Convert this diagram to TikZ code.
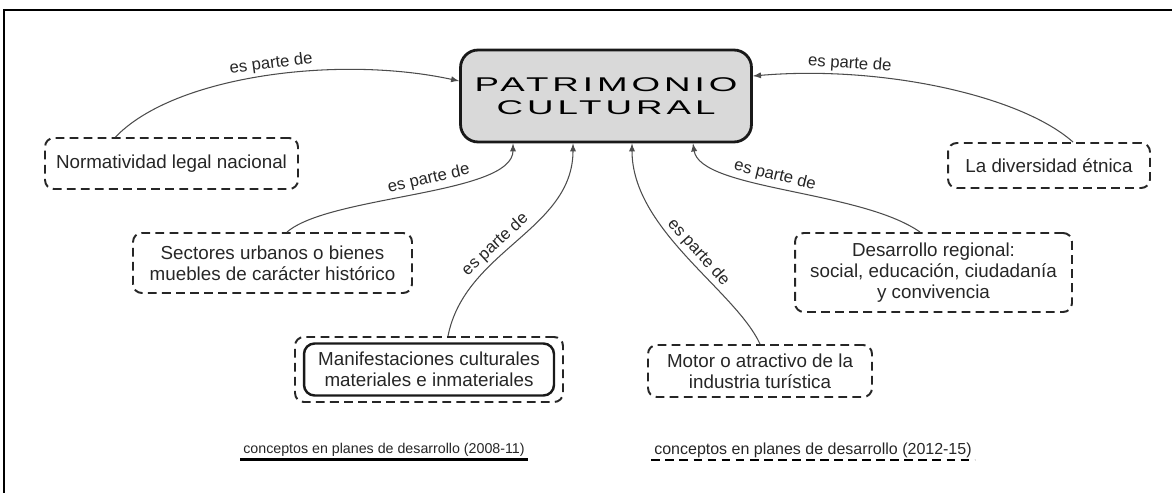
\documentclass[tikz,border=0pt]{standalone}
\usepackage{fontspec}
\setmainfont{Liberation Sans}
\newfontfamily\titlefont[FakeStretch=1.85,LetterSpace=20]{Liberation Sans}
\usetikzlibrary{arrows}

\begin{document}
\begin{tikzpicture}[x=0.02cm,y=-0.02cm,
    concept/.style={draw=black!85,line width=1.1pt,dash pattern=on 5pt off 3pt,
      rounded corners=5pt,align=center,inner sep=0pt,text=black!85,
      font=\fontsize{10.7}{12}\selectfont},
    older/.style={draw=black!90,line width=1.4pt,rounded corners=6pt,
      align=center,inner sep=0pt,text=black!85,font=\fontsize{10.7}{12}\selectfont},
    mainbox/.style={draw=black!90,line width=1.6pt,rounded corners=10pt,fill=gray!30,
      align=center,font=\titlefont\fontsize{11.3}{13}\selectfont},
    link/.style={draw=black!70,line width=0.6pt,-latex},
    rel/.style={sloped,above,inner sep=1.5pt,text=black!85,font=\fontsize{9.5}{11}\selectfont},
    legend/.style={inner sep=1.5pt,text=black!85}]
    \useasboundingbox (0,0) rectangle (1172,493);
    \draw[line width=0.6pt] (4,493) |- (1172,10);
    %
    \node[mainbox,minimum width=5.82cm,minimum height=1.84cm] (pat) at (606,96) {PATRIMONIO\\CULTURAL};
    \node[concept,minimum width=5.06cm,minimum height=1.02cm] (norm) at (171.5,163.5) {Normatividad legal nacional};
    \node[concept,minimum width=5.58cm,minimum height=1.2cm] (sect) at (272.5,263) {Sectores urbanos o bienes\\muebles de carácter histórico};
    \node[concept,minimum width=5.36cm,minimum height=1.3cm] (manif) at (429,369.5) {};
    \node[older,minimum width=5cm,minimum height=1.04cm] (manifin) at (manif) {Manifestaciones culturales\\materiales e inmateriales};
    \node[concept,minimum width=4.48cm,minimum height=1.04cm] (motor) at (760,371) {Motor o atractivo de la\\industria turística};
    \node[concept,minimum width=5.54cm,minimum height=1.58cm] (desa) at (933.5,272.5) {Desarrollo regional:\\social, educación, ciudadanía\\y convivencia};
    \node[concept,minimum width=4.04cm,minimum height=0.9cm] (etn) at (1049,165.5) {La diversidad étnica};
    %
    \draw[link] ([xshift=-1.12cm]norm.north) .. controls (175,75) and (340,55) .. ([yshift=0.3cm]pat.west)
      node[rel,pos=0.52] {es parte de};
    \draw[link] ([xshift=0.29cm]sect.north) .. controls (330,195) and (513,195) .. ([xshift=-1.86cm]pat.south)
      node[rel,pos=0.55] {es parte de};
    \draw[link] ([xshift=0.38cm]manif.north) .. controls (465,250) and (573,230) .. ([xshift=-0.66cm]pat.south)
      node[rel,pos=0.42] {es parte de};
    \draw[link] (motor.north) .. controls (735,290) and (632,230) .. ([xshift=0.52cm]pat.south)
      node[rel,pos=0.48] {es parte de};
    \draw[link] ([xshift=-0.27cm]desa.north) .. controls (860,190) and (700,190) .. ([xshift=1.74cm]pat.south)
      node[rel,pos=0.55] {es parte de};
    \draw[link] ([xshift=0.48cm]etn.north) .. controls (1020,95) and (880,65) .. ([yshift=0.4cm]pat.east)
      node[rel,pos=0.75] {es parte de};
    %
    \node[legend,font=\fontsize{8.1}{10}\selectfont] (old) at (384,450) {conceptos en planes de desarrollo (2008-11)};
    \draw[line width=1.7pt] (old.south west) -- (old.south east);
    \node[legend,font=\fontsize{9.1}{11}\selectfont] (new) at (813,450) {conceptos en planes de desarrollo (2012-15)};
    \draw[line width=1.1pt,dash pattern=on 5pt off 3pt] (new.south west) -- (new.south east);
\end{tikzpicture}
\end{document}
